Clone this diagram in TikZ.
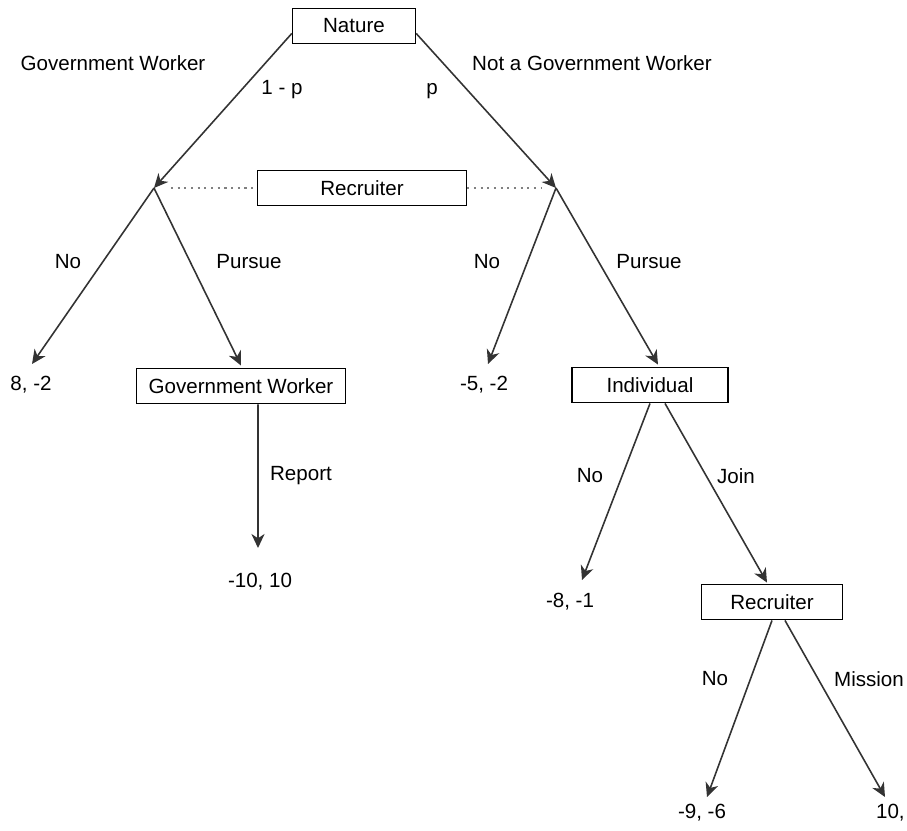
\documentclass[tikz,border=0pt]{standalone}
\usepackage{fontspec}
\setmainfont{Liberation Sans}
\usetikzlibrary{arrows.meta}

\begin{document}
\begin{tikzpicture}[x=0.02cm,y=-0.02cm,font=\fontsize{11.7}{14}\selectfont]
\useasboundingbox (0,0) rectangle (907,831);
\begin{scope}[every node/.style={rectangle,draw,line width=0.8pt,minimum height=0.71cm,inner sep=0pt}]
    \node[minimum width=2.46cm] (N) at (354,26) {Nature};
    \node[minimum width=4.18cm] (R1) at (362,188) {Recruiter};
    \node[minimum width=4.18cm] (G) at (241,386) {Government Worker};
    \node[minimum width=3.12cm] (I) at (650,385) {Individual};
    \node[minimum width=2.82cm] (R2) at (772,602) {Recruiter};
\end{scope}

\coordinate (L) at (154,188);
\coordinate (R) at (556,188);
\coordinate (TL1) at (32,364);
\coordinate (TR1) at (488,364);
\coordinate (TG) at (258,548);
\coordinate (TI1) at (582,580);
\coordinate (TR2a) at (707,797);
\coordinate (TR2b) at (885,797);

\begin{scope}[every node/.style={inner sep=1pt}]
    \node (GW) at (113,63) {Government Worker};
    \node (NGW) at (592,63) {Not a Government Worker};
    \node (Q) at (282,90) {1 - p};
    \node (P) at (432,91) {p};
    % ветки
    \node (LN1) at (68,262) {No};
    \node (LP1) at (249,262) {Pursue};
    \node (LN2) at (487,262) {No};
    \node (LP2) at (649,262) {Pursue};
    \node (LRep) at (301,476) {Report};
    \node (LN3) at (590,476) {No};
    \node (LJ) at (736,476) {Join};
    \node (LN4) at (715,679) {No};
    \node (LM) at (869,679) {Mission};
    % выигрыши
    \node (U1) at (31,385) {8, -2};
    \node (U2) at (260,582) {-10, 10};
    \node (U3) at (484,385) {-5, -2};
    \node (U4) at (570,602) {-8, -1};
    \node (U5) at (702,813) {-9, -6};
    \node[anchor=west] (U6) at (874,813) {10,};
\end{scope}

\begin{scope}[>={Stealth[length=8pt,width=7.5pt,inset=2.5pt]},
              every edge/.style={draw=black!80,line width=0.9pt}]
    \path [->] ([yshift=0.22cm]N.south west) edge (L);
    \path [->] ([yshift=0.22cm]N.south east) edge (R);
    \path [->] (L) edge (TL1);
    \path [->] (L) edge ([yshift=0.04cm]G.north);
    \path [->] (R) edge (TR1);
    \path [->] (R) edge ([xshift=0.16cm,yshift=0.04cm]I.north);
    \path [->] ([xshift=0.34cm]G.south) edge (TG);
    \path [->] (I.south) edge (TI1);
    \path [->] ([xshift=0.3cm]I.south) edge ([xshift=-0.1cm,yshift=0.02cm]R2.north);
    \path [->] (R2.south) edge (TR2a);
    \path [->] ([xshift=0.26cm]R2.south) edge (TR2b);
    % информационное множество
    \path (L) edge[gray, draw=gray, line width=0.6pt, dash pattern=on 1.2pt off 2.6pt, shorten <=0.34cm] (R1.west);
    \path (R1.east) edge[gray, draw=gray, line width=0.6pt, dash pattern=on 1.2pt off 2.6pt, shorten >=0.28cm] (R);
\end{scope}
\end{tikzpicture}
\end{document}
